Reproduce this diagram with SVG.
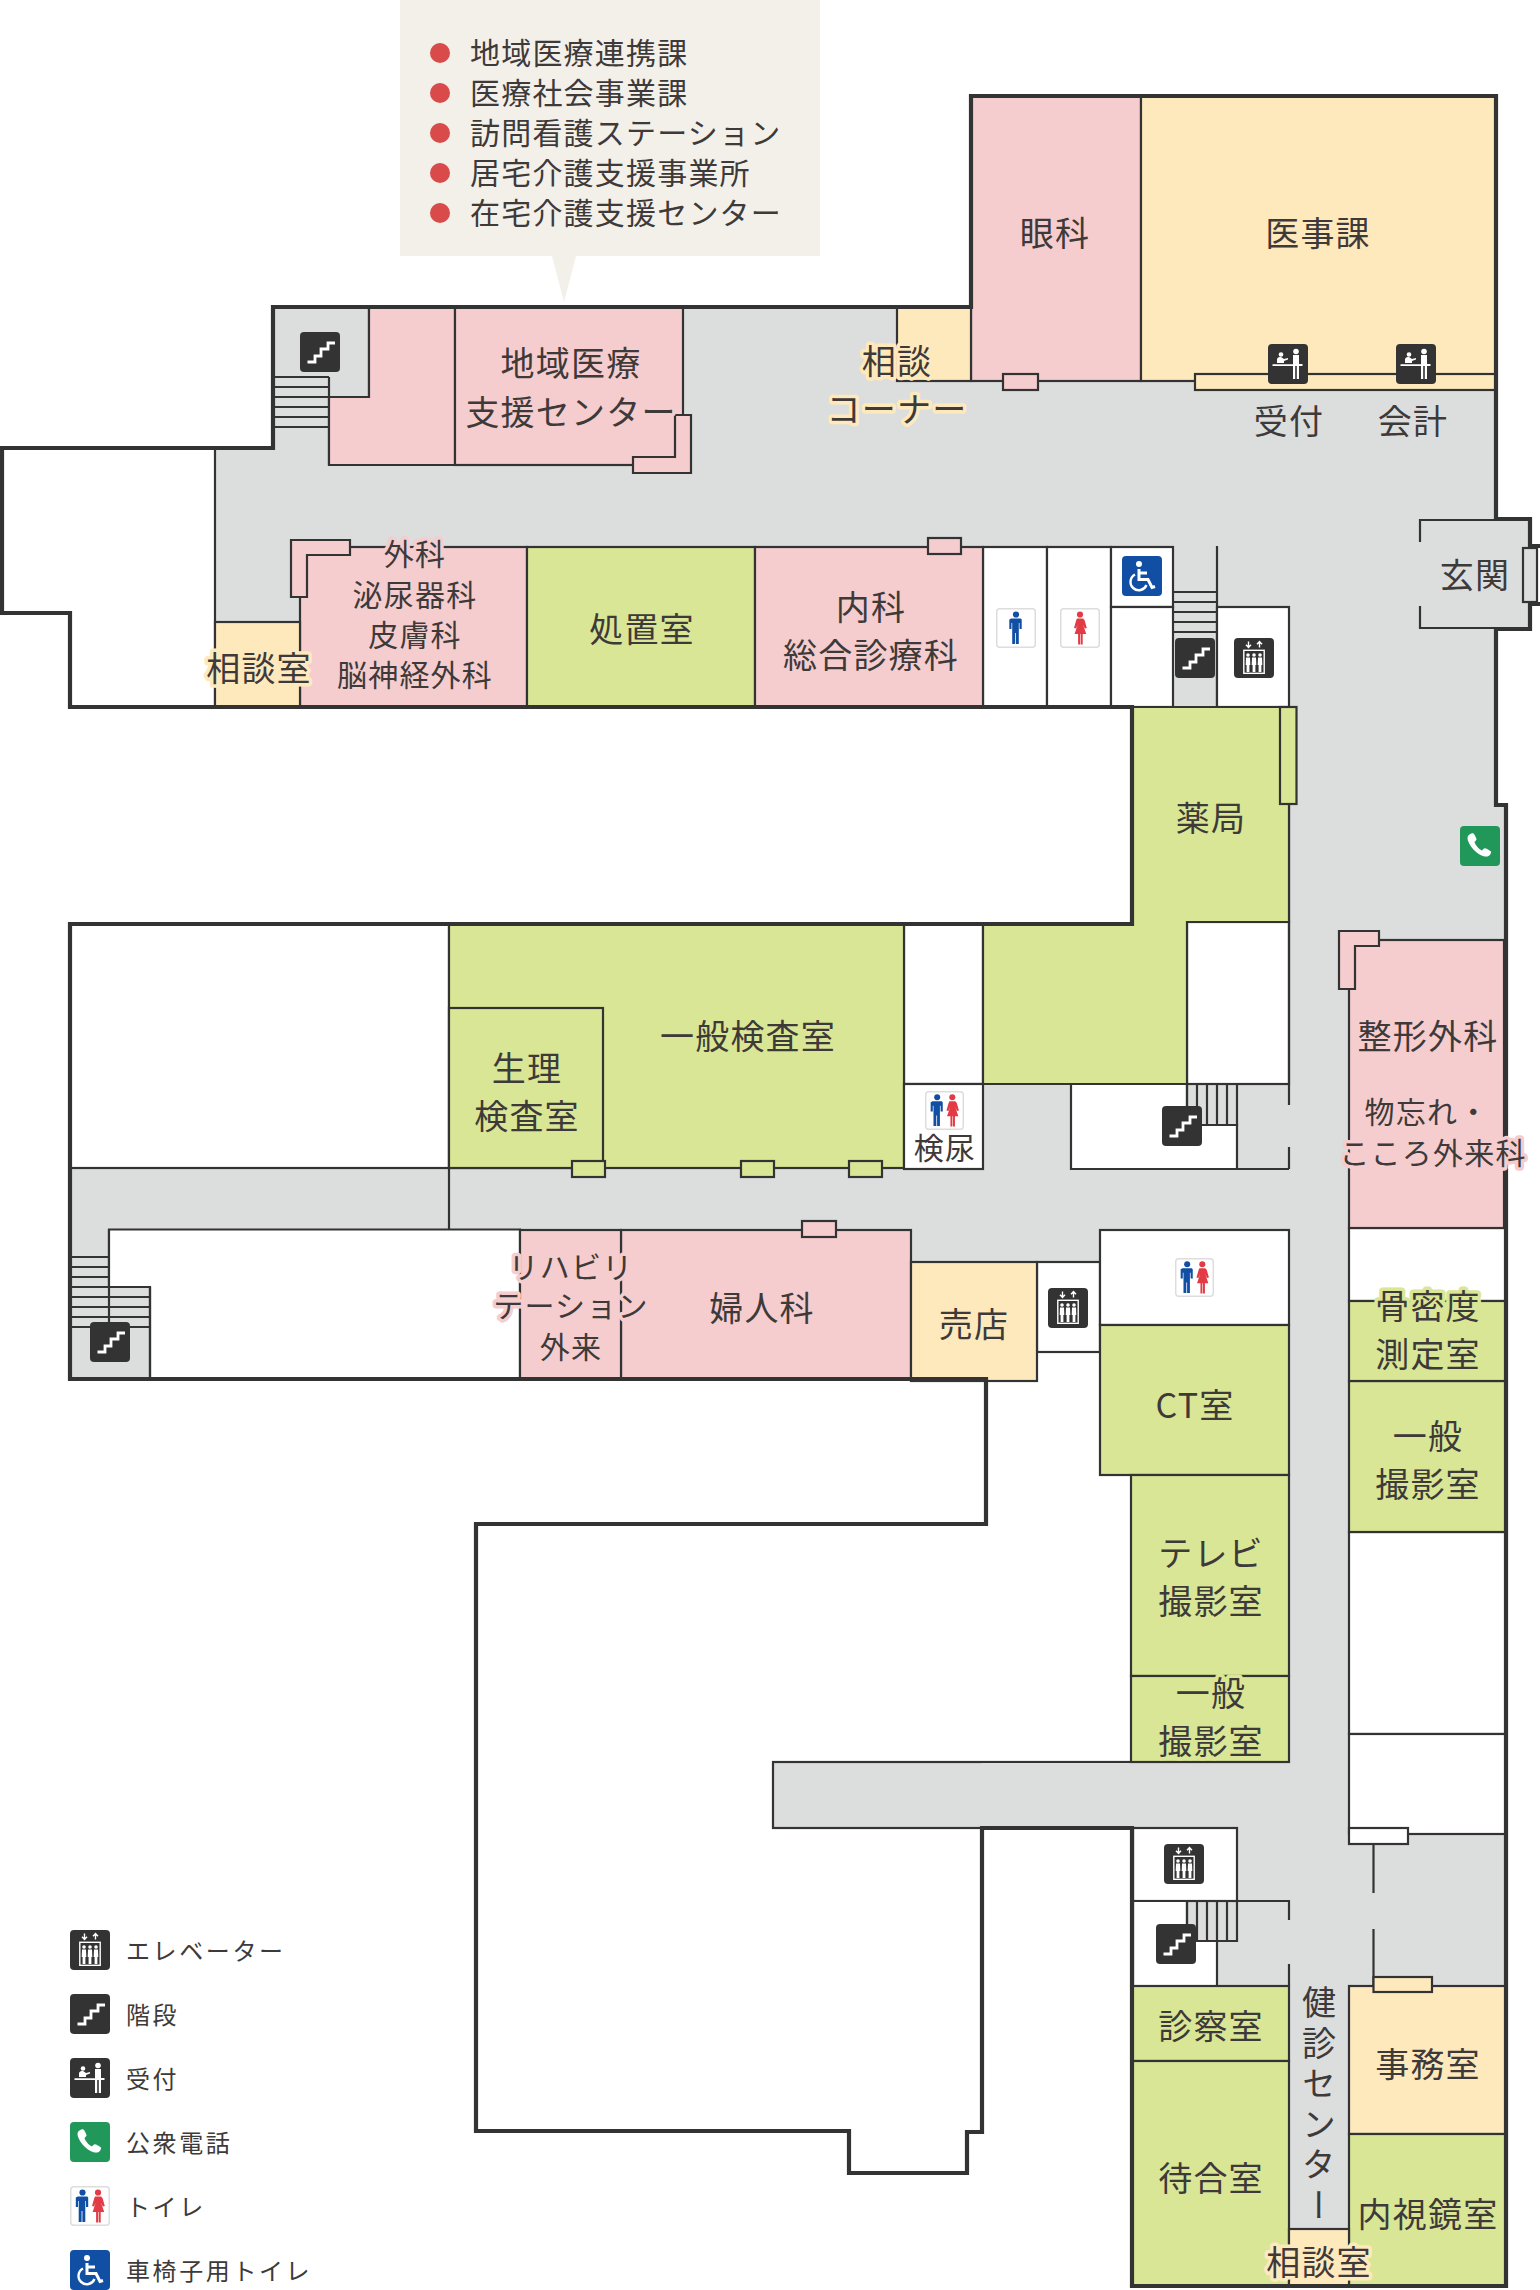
<svg xmlns="http://www.w3.org/2000/svg" width="1540" height="2290" viewBox="0 0 1540 2290" lang="ja">
<style>
text{font-family:"Noto Sans CJK JP","Noto Sans",sans-serif;fill:#3e3a39;stroke-linejoin:round;paint-order:stroke}
.t{font-size:34px;letter-spacing:1.2px;text-anchor:middle;dominant-baseline:central;stroke-width:7px;transform:translate(1px,-2px)}
.s{font-size:30px;letter-spacing:1.2px}
.hp{stroke:#f5cdcf}.hy{stroke:#fee9bd}.hg{stroke:#d9e696}.hk{stroke:#dcdddd}.hw{stroke:#fff}
.p{fill:#f5cdcf}.y{fill:#fee9bd}.g{fill:#d9e696}.k{fill:#dcdddd}.w{fill:#fff}
.r{stroke:#333;stroke-width:2.2}
.l{fill:none;stroke:#333;stroke-width:2.2}
.wall{fill:none;stroke:#333;stroke-width:4.2;stroke-linejoin:miter}
.list{font-size:30px;letter-spacing:1.2px;dominant-baseline:central;transform:translateY(-1.5px)}
.leg{font-size:24px;letter-spacing:2.6px;dominant-baseline:central;transform:translateY(-1px)}
.dot{fill:#d94a4a}
</style>
<defs>
<symbol id="i-stair" viewBox="0 0 40 40"><rect width="40" height="40" rx="4" fill="#333"/><path d="M7.5 30H15V24H21V17H28V11H35" fill="none" stroke="#fff" stroke-width="2.8"/></symbol>
<symbol id="i-elev" viewBox="0 0 40 40"><rect width="40" height="40" rx="4" fill="#333"/><path d="M14.500 3.500V9M12 6.800L14.500 9.500L17 6.800M25.500 9.500V4M23 6.200L25.500 3.500L28 6.200" fill="none" stroke="#fff" stroke-width="1.400"/><rect x="9.800" y="12.300" width="20.400" height="23" fill="none" stroke="#fff" stroke-width="1.400"/><g fill="#fff"><circle cx="14" cy="17" r="1.800"/><circle cx="20" cy="17" r="1.800"/><circle cx="26" cy="17" r="1.800"/><path d="M12 19.500h4l.3 7.500h-.9v7h-2.800v-7h-.9zM18 19.500h4l.3 7.500h-.9v7h-2.800v-7h-.9zM24 19.500h4l.3 7.500h-.9v7h-2.800v-7h-.9z"/></g></symbol>
<symbol id="i-recept" viewBox="0 0 40 40"><rect width="40" height="40" rx="4" fill="#333"/><g fill="#fff"><circle cx="28" cy="7.500" r="2.800"/><path d="M25 11h6v9h3.500v2h-3.500v13h-2.200v-13h-1.600v13h-2.200v-13H4.500v-1.800H25z"/><circle cx="13" cy="10.500" r="2.300"/><path d="M9 19v-3.500c0-2 2-2.500 4-2.500l3 2 4-1v1.500l-4 1.500V19z"/></g></symbol>
<symbol id="i-phone" viewBox="0 0 40 40"><rect width="40" height="40" rx="4" fill="#21985a"/><path d="M9.500 8.500c1.500-1 3-1.500 4-1 1 1 2.500 4 3 5.500.2 1-1 2-2 3 1 3 4 7 7.500 8.500 1-1 2-2.500 3-2.300 2 .6 5 2.200 6 3.300.5 1-.5 3-2 4.200-2 1.500-5 1-8-.5-6-3-11-9-13-14.500-1-3-.5-5 1.500-6.200z" fill="#fff"/></symbol>
<g id="man"><circle cx="0" cy="-13.500" r="3.100"/><path d="M-4.700 -9.500h9.400l1 1v9.500h-2.200v-6h-.7v21h-2.900v-11h-.8v11h-2.900v-21h-.7v6h-2.200v-9.500z"/></g>
<g id="woman"><circle cx="0" cy="-13.500" r="3.100"/><path d="M-3 -9.500h6l1.500 1.500 2.300 8-2 .5-1.800-4 3.200 9.500h-3.500v10.500h-2v-10.500h-.6v10.500h-2v-10.500h-3.500l3.200-9.500-1.800 4-2-.5 2.300-8z"/></g>
<symbol id="i-both" viewBox="0 0 40 40"><rect x=".75" y=".75" width="38.500" height="38.500" rx="3" fill="#fff" stroke="#ddd" stroke-width="1.500"/><use href="#man" x="12.500" y="20" fill="#114fa5"/><use href="#woman" x="28" y="20" fill="#e23b45"/></symbol>
<symbol id="i-male" viewBox="0 0 40 40"><rect x=".75" y=".75" width="38.500" height="38.500" rx="3" fill="#fff" stroke="#ddd" stroke-width="1.500"/><use href="#man" x="20" y="20" fill="#114fa5"/></symbol>
<symbol id="i-female" viewBox="0 0 40 40"><rect x=".75" y=".75" width="38.500" height="38.500" rx="3" fill="#fff" stroke="#ddd" stroke-width="1.500"/><use href="#woman" x="20" y="20" fill="#e23b45"/></symbol>
<symbol id="i-wheel" viewBox="0 0 40 40"><rect width="40" height="40" rx="4" fill="#114fa5"/><circle cx="17" cy="8" r="3" fill="#fff"/><path d="M17 13V23.500H26L30 31.500L33 30.500M17 17H25" fill="none" stroke="#fff" stroke-width="3"/><path d="M13 18.500A8.300 8.300 0 1 0 24.500 29" fill="none" stroke="#fff" stroke-width="2.400"/></symbol>
</defs>

<g id="floor">
<path class="k" d="M273 307H971V96H1496V519H1530V629H1496V805H1506V2286H1132V1828H982V2132H967V2173H849V2131H476V1524H986V1379H70V924H1132V707H70V613H2V448H273Z"/>
<path class="w" d="M2 448H215V707H70V613H2Z"/>
<path class="l" d="M215 448V707"/>
<path class="w" d="M476 1524H986V1381H1037V1352H1100V1475H1132V2286H982V2132H967V2173H849V2131H476Z"/>
<rect class="k r" x="773" y="1762" width="360" height="66"/>
<path class="k" d="M982 1763H1349V1986H1132V1827H982Z"/>
<path class="l" d="M773 1762H1289"/>
</g>

<g id="stairs">
<path class="l" d="M273 377H329M273 387H329M273 397H329M273 407H329M273 417H329M273 427H329M329 377V465M369 307V397H329"/>
<path class="l" d="M1173 592H1217M1173 602H1217M1173 612H1217M1173 622H1217M1173 632H1217M1217 546V707"/>
<rect class="k" x="1187" y="1084" width="50" height="41"/>
<rect class="k" x="1187" y="1901" width="50" height="40"/>
<path class="l" d="M70 1257H109M70 1267H109M70 1277H109M70 1287H150M70 1297H150M70 1307H150M70 1317H150M70 1327H150M109 1229.500V1327"/>
</g>

<g id="room-blank"><g class="r">
<rect class="w" x="983" y="547" width="64" height="160"/>
<rect class="w" x="1047" y="547" width="64" height="160"/>
<rect class="w" x="1111" y="547" width="62" height="60"/>
<rect class="w" x="1111" y="607" width="62" height="100"/>
<rect class="w" x="1217" y="607" width="72" height="100"/>
<rect class="w" x="70" y="924" width="379" height="244"/>
<path class="w" d="M109 1229.500H520V1379H150V1287H109Z"/>
<path class="w" d="M1071 1084H1187V1125H1237V1169H1071Z"/>
<rect class="w" x="904" y="924" width="79" height="160"/>
<rect class="w" x="1187" y="922" width="102" height="162"/>
<rect class="w" x="1037" y="1262" width="63" height="90"/>
<rect class="w" x="1100" y="1230" width="189" height="95"/>
<rect class="w" x="1349" y="1228" width="157" height="73"/>
<rect class="w" x="1349" y="1532" width="157" height="202"/>
<rect class="w" x="1349" y="1734" width="157" height="100"/>
<rect class="w" x="1349" y="1828" width="59" height="16"/>
<rect class="w" x="1133" y="1828" width="104" height="73"/>
<path class="w" d="M1133 1901H1187V1941H1217V1986H1133Z"/>
</g>
<path class="l" d="M1197 1084V1125M1207 1084V1125M1217 1084V1125M1227 1084V1125M1187 1084V1125M1237 1084V1125H1187"/>
<path class="l" d="M1187 1901V1941H1237V1901M1197 1901V1941M1207 1901V1941M1217 1901V1941M1227 1901V1941M1237 1901H1289V1920M1289 1964V1986"/>
<path class="l" d="M150 1287V1379M449 1168V1229.500M1289 707V1105M1289 1147V1169M1071 1169H1289M1373.500 1844V1893M1373.500 1929V1986M1408 1834H1506"/>
<path class="l" d="M1420 542V520H1500M1420 606V628H1500"/>
</g>

<g id="room-chiiki"><path class="p r" d="M369 307V397H329V465H455V307Z"/><rect class="p r" x="455" y="307" width="228" height="158"/><path class="p r" d="M633 457H675V415H691V473H633Z"/>
<text class="t hp" x="570" y="363">地域医療</text><text class="t hp" x="570" y="412">支援センター</text></g>

<g id="room-geka"><rect class="p r" x="300" y="547" width="227" height="160"/><path class="p r" d="M291 540H350V555H307V597H291Z"/>
<text class="t s hp" x="414" y="554">外科</text><text class="t s hp" x="414" y="595">泌尿器科</text><text class="t s hp" x="414" y="635">皮膚科</text><text class="t s hp" x="414" y="675">脳神経外科</text></g>
<g id="room-soudan1"><rect class="y r" x="215" y="622" width="85" height="85"/><text class="t hy" x="258" y="668">相談室</text></g>
<g id="room-shochi"><rect class="g r" x="527" y="547" width="228" height="160"/><text class="t hg" x="641" y="629">処置室</text></g>
<g id="room-naika"><rect class="p r" x="755" y="547" width="228" height="160"/><rect class="p r" x="928" y="538" width="33" height="16"/><text class="t hp" x="870" y="607">内科</text><text class="t hp" x="870" y="655">総合診療科</text></g>

<g id="room-ganka"><rect class="p r" x="971" y="96" width="170" height="285"/></g>
<g id="room-soudan2"><rect class="y r" x="897" y="307" width="74" height="74"/></g>
<g id="room-iji"><rect class="y r" x="1141" y="96" width="355" height="285"/><rect class="y r" x="1195" y="374" width="301" height="16"/><text class="t hy" x="1317" y="233">医事課</text></g>
<g id="door-ganka"><rect class="p r" x="1003" y="374" width="35" height="16"/><text class="t hp" x="1054" y="233">眼科</text></g>
<g id="label-soudan2"><text class="t hy" x="896" y="361">相談</text><text class="t hy" x="896" y="409">コーナー</text></g>
<g id="label-uketsuke"><text class="t hk" x="1288" y="421">受付</text><text class="t hk" x="1412" y="421">会計</text></g>
<g id="room-genkan"><text class="t hk" x="1474" y="575">玄関</text></g>

<g id="room-yakkyoku"><path class="g r" d="M1132 707H1289V922H1187V1084H983V924H1132Z"/><rect class="g r" x="1280" y="707" width="16.500" height="97"/><text class="t hg" x="1210" y="818">薬局</text></g>
<g id="room-kensa"><rect class="g r" x="449" y="924" width="455" height="244"/><rect class="g r" x="449" y="1008" width="154" height="160"/>
<rect class="g r" x="572" y="1161" width="33" height="16"/><rect class="g r" x="741" y="1161" width="33" height="16"/><rect class="g r" x="849" y="1161" width="33" height="16"/>
<text class="t hg" x="747" y="1036">一般検査室</text><text class="t hg" x="526" y="1068">生理</text><text class="t hg" x="526" y="1116">検査室</text></g>
<g id="room-kennyo"><rect class="w r" x="904" y="1084" width="79" height="85"/><text class="t s hw" x="944" y="1148">検尿</text></g>

<g id="room-fujin"><rect class="p r" x="621" y="1230" width="290" height="149"/><rect class="p r" x="802" y="1221" width="34" height="16"/><text class="t hp" x="761" y="1308">婦人科</text></g>
<g id="room-rehab"><rect class="p r" x="520" y="1230" width="101" height="149"/><text class="t s hp" x="570" y="1267">リハビリ</text><text class="t s hp" x="570" y="1306">テーション</text><text class="t s hp" x="570" y="1347">外来</text></g>
<g id="room-baiten"><rect class="y r" x="911" y="1262" width="126" height="119"/><text class="t hy" x="973" y="1324">売店</text></g>
<g id="room-ct"><rect class="g r" x="1100" y="1325" width="189" height="150"/><text class="t hg" x="1194" y="1405">CT室</text></g>
<g id="room-tv"><rect class="g r" x="1131" y="1475" width="158" height="201"/><text class="t hg" x="1210" y="1553">テレビ</text><text class="t hg" x="1210" y="1601">撮影室</text></g>
<g id="room-ippan1"><rect class="g r" x="1131" y="1676" width="158" height="86"/><text class="t hg" x="1210" y="1693">一般</text><text class="t hg" x="1210" y="1741">撮影室</text></g>
<g id="room-ippan2"><rect class="g r" x="1349" y="1381" width="157" height="151"/><text class="t hg" x="1427" y="1436">一般</text><text class="t hg" x="1427" y="1484">撮影室</text></g>
<g id="room-kotsu"><rect class="g r" x="1349" y="1301" width="157" height="80"/><text class="t hg" x="1427" y="1306">骨密度</text><text class="t hg" x="1427" y="1354">測定室</text></g>
<g id="room-shinsatsu"><rect class="g r" x="1132" y="1986" width="157" height="75"/><text class="t hg" x="1210" y="2026">診察室</text></g>
<g id="room-machiai"><rect class="g r" x="1132" y="2061" width="157" height="225"/><text class="t hg" x="1210" y="2178">待合室</text></g>
<g id="room-jimu"><rect class="y r" x="1349" y="1986" width="157" height="148"/><rect class="y r" x="1373.500" y="1977" width="58.500" height="15"/><text class="t hy" x="1427" y="2064">事務室</text></g>
<g id="room-naishi"><rect class="g r" x="1349" y="2134" width="157" height="152"/><text class="t hg" x="1427" y="2214">内視鏡室</text></g>
<g id="label-kenshin"><text x="1319" y="1985" style="writing-mode:vertical-rl;font-size:34px;letter-spacing:6.600px">健診センター</text></g>
<g id="room-soudan3"><rect class="y r" x="1289" y="2229" width="60" height="57"/><text class="t hy" x="1318" y="2262">相談室</text></g>

<g id="walls">
<path class="wall" d="M273 307H971V96H1496V519H1530V546H1541M1541 604H1530V629H1496V805H1506V2286H1132V1828H982V2132H967V2173H849V2131H476V1524H986V1379H70V924H1132V707H70V613H2V448H273V304.900"/>
<rect x="1523" y="548" width="14" height="54" fill="#dcdddd" stroke="#333" stroke-width="2.200"/>
</g>

<g id="room-seikei"><rect class="p r" x="1349" y="940" width="155" height="288"/><path class="p r" d="M1339 931H1379V946H1355V989H1339Z"/><text class="t hp" x="1427" y="1036">整形外科</text><text class="t s hp" x="1426" y="1112">物忘れ・</text><text class="t s hp" x="1432" y="1153">こころ外来科</text></g>

<g id="callout"><path fill="#f3f0e9" d="M400 0H820V256H576L564 302L552 256H400Z"/>
<circle class="dot" cx="440" cy="53" r="10"/><circle class="dot" cx="440" cy="93" r="10"/><circle class="dot" cx="440" cy="133" r="10"/><circle class="dot" cx="440" cy="173" r="10"/><circle class="dot" cx="440" cy="213" r="10"/>
<text class="list" x="470" y="52">地域医療連携課</text><text class="list" x="470" y="92">医療社会事業課</text><text class="list" x="470" y="132">訪問看護ステーション</text><text class="list" x="470" y="172">居宅介護支援事業所</text><text class="list" x="470" y="212">在宅介護支援センター</text></g>

<g id="icons">
<use href="#i-stair" x="300" y="332" width="40" height="40"/>
<use href="#i-recept" x="1268" y="344" width="40" height="40"/>
<use href="#i-recept" x="1396" y="344" width="40" height="40"/>
<use href="#i-male" x="996" y="608" width="40" height="40"/>
<use href="#i-female" x="1060" y="608" width="40" height="40"/>
<use href="#i-wheel" x="1122" y="556" width="40" height="40"/>
<use href="#i-stair" x="1175" y="638" width="40" height="40"/>
<use href="#i-elev" x="1234" y="638" width="40" height="40"/>
<use href="#i-phone" x="1460" y="826" width="40" height="40"/>
<use href="#i-both" x="925" y="1091" width="39" height="39"/>
<use href="#i-stair" x="1162" y="1106" width="40" height="40"/>
<use href="#i-stair" x="90" y="1322" width="40" height="40"/>
<use href="#i-elev" x="1048" y="1288" width="40" height="40"/>
<use href="#i-both" x="1175" y="1258" width="39" height="39"/>
<use href="#i-elev" x="1164" y="1844" width="40" height="40"/>
<use href="#i-stair" x="1156" y="1924" width="40" height="40"/>
</g>

<g id="legend">
<use href="#i-elev" x="70" y="1930" width="40" height="40"/><text class="leg" x="126" y="1950">エレベーター</text>
<use href="#i-stair" x="70" y="1994" width="40" height="40"/><text class="leg" x="126" y="2014">階段</text>
<use href="#i-recept" x="70" y="2058" width="40" height="40"/><text class="leg" x="126" y="2078">受付</text>
<use href="#i-phone" x="70" y="2122" width="40" height="40"/><text class="leg" x="126" y="2142">公衆電話</text>
<use href="#i-both" x="70" y="2186" width="40" height="40"/><text class="leg" x="126" y="2206">トイレ</text>
<use href="#i-wheel" x="70" y="2250" width="40" height="40"/><text class="leg" x="126" y="2270">車椅子用トイレ</text>
</g>
</svg>
